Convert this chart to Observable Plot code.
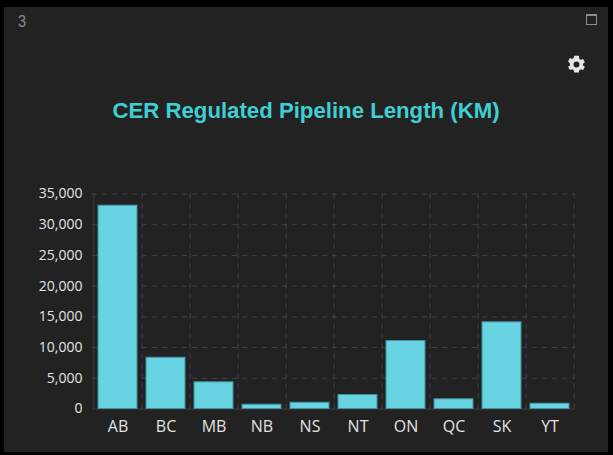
<!DOCTYPE html>
<html>
<head>
<meta charset="utf-8">
<script src="https://cdn.jsdelivr.net/npm/d3@7"></script>
<script src="https://cdn.jsdelivr.net/npm/@observablehq/plot@0.6"></script>
<style>
html,body{margin:0;padding:0;background:#000;overflow:hidden;width:613px;height:455px}
#panel{position:absolute;left:4px;top:7px;width:604px;height:445px;background:#222}
#num{position:absolute;left:18px;top:12px;font:17px "Liberation Sans",sans-serif;color:#8a8a8a;transform:scaleX(.85);transform-origin:left}
#win{position:absolute;left:586px;top:14px;width:9px;height:8px;border:1px solid #8f8f8f;border-top-width:2px}
#gear{position:absolute;left:566px;top:54px;width:21px;height:21px}
#title{position:absolute;left:4px;width:604px;top:98px;text-align:center;font:bold 22.2px "Liberation Sans",Arial,sans-serif;color:#3fcfd2;line-height:26px}
#chart{position:absolute;left:0;top:0}
#chart svg{background:transparent}
</style>
</head>
<body>
<div id="panel"></div>
<div id="num">3</div>
<div id="win"></div>
<svg id="gear" viewBox="0 0 24 24"><path fill="#e6e6e6" fill-rule="evenodd" d="M19.4 13a7.6 7.6 0 0 0 0-2l2.2-1.7-2.1-3.6-2.6 1a7.6 7.6 0 0 0-1.7-1L14.8 2H9.2l-.4 2.7a7.6 7.6 0 0 0-1.7 1l-2.6-1-2.1 3.6L4.6 11a7.6 7.6 0 0 0 0 2l-2.2 1.7 2.1 3.6 2.6-1c.5.4 1.1.7 1.7 1l.4 2.7h5.6l.4-2.7c.6-.3 1.2-.6 1.7-1l2.6 1 2.1-3.6zM12 15.4a3.4 3.4 0 1 1 0-6.8 3.4 3.4 0 0 1 0 6.8z"/></svg>
<div id="title">CER Regulated Pipeline Length (KM)</div>
<div id="chart"></div>
<script>
const provinces = ["AB","BC","MB","NB","NS","NT","ON","QC","SK","YT"];
const lengthKm = [33100,8350,4350,700,1025,2280,11070,1580,14110,865];
const yTicks = [0,5000,10000,15000,20000,25000,30000,35000];
const table = provinces.map((p,i)=>({p,v:lengthKm[i]}));

const grid = "#414141", axisLine = "#3f3f3f", labelColor = "#e2e2e2";
const mLeft = 92, mRight = 38, mTop = 193.5, mBottom = 46.5, chartW = 613, chartH = 455;
const step = (chartW-mLeft-mRight)/provinces.length;

const chart = Plot.plot({
  width:chartW, height:chartH,
  marginLeft:mLeft, marginRight:mRight, marginTop:mTop, marginBottom:mBottom,
  style:{background:"transparent"},
  x:{domain:provinces,paddingInner:0.19,paddingOuter:0.095,label:null,axis:null},
  y:{domain:[0,35000],label:null,axis:null},
  marks:[
    Plot.ruleY(yTicks.slice(1),{stroke:grid,strokeWidth:1,strokeDasharray:"5,5"}),
    Plot.ruleX(provinces,{x:d=>d,dx:step/2,stroke:grid,strokeWidth:1,strokeDasharray:"5,5"}),
    Plot.ruleX(provinces.slice(0,1),{x:d=>d,dx:-step/2,stroke:axisLine,strokeWidth:1}),
    Plot.ruleY([0],{stroke:axisLine,strokeWidth:1}),
    Plot.barY(table,{x:"p",y:"v",fill:"#67d3e3",stroke:"#418f9f",strokeWidth:1}),
    Plot.axisY({ticks:yTicks,tickSize:0,tickPadding:10,tickFormat:d3.format(","),label:null,
      stroke:"none",fill:labelColor,fontSize:14,fontFamily:"'Open Sans',sans-serif"}),
    Plot.axisX({tickSize:0,tickPadding:12,label:null,
      stroke:"none",fill:labelColor,fontSize:16,fontFamily:"'Open Sans',sans-serif"})
  ]
});
document.getElementById("chart").appendChild(chart);
</script>
</body>
</html>
